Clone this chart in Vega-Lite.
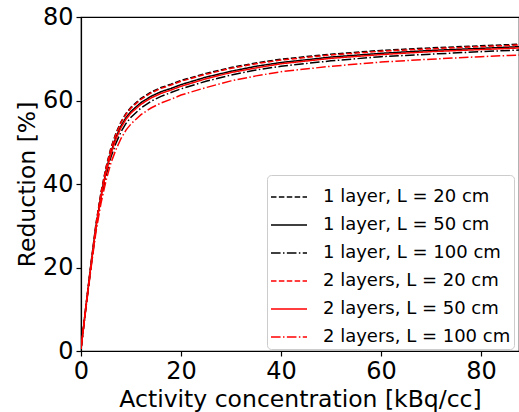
{
  "$schema": "https://vega.github.io/schema/vega-lite/v6.json",
  "width": 438,
  "height": 334,
  "autosize": {"type": "none"},
  "padding": {"left": 81, "top": 17, "right": 0, "bottom": 61},
  "background": "white",
  "data": {"values": [
    {"x": 0, "a": 0.5, "b": 0.5, "c": 0.5, "d": 0.5, "e": 0.5, "f": 0.5},
    {"x": 1, "a": 11.0, "b": 10.8, "c": 10.6, "d": 10.9, "e": 10.7, "f": 10.4},
    {"x": 2, "a": 21.0, "b": 20.6, "c": 20.2, "d": 20.8, "e": 20.4, "f": 19.8},
    {"x": 3, "a": 30.5, "b": 29.9, "c": 29.3, "d": 30.3, "e": 29.6, "f": 28.6},
    {"x": 4, "a": 38.0, "b": 37.2, "c": 36.4, "d": 37.8, "e": 36.9, "f": 35.4},
    {"x": 5, "a": 44.0, "b": 43.1, "c": 42.0, "d": 43.8, "e": 42.7, "f": 40.8},
    {"x": 6, "a": 48.7, "b": 47.7, "c": 46.5, "d": 48.5, "e": 47.3, "f": 45.1},
    {"x": 7, "a": 52.2, "b": 51.2, "c": 49.8, "d": 52.0, "e": 50.8, "f": 48.3},
    {"x": 8, "a": 54.9, "b": 53.9, "c": 52.5, "d": 54.7, "e": 53.5, "f": 50.9},
    {"x": 9, "a": 56.9, "b": 55.9, "c": 54.5, "d": 56.7, "e": 55.5, "f": 52.9},
    {"x": 10, "a": 58.4, "b": 57.4, "c": 56.0, "d": 58.2, "e": 57.0, "f": 54.4},
    {"x": 12, "a": 60.5, "b": 59.5, "c": 58.2, "d": 60.3, "e": 59.1, "f": 56.6},
    {"x": 14, "a": 62.0, "b": 61.0, "c": 59.8, "d": 61.8, "e": 60.6, "f": 58.2},
    {"x": 16, "a": 63.1, "b": 62.1, "c": 61.0, "d": 62.9, "e": 61.7, "f": 59.4},
    {"x": 18, "a": 63.9, "b": 62.9, "c": 61.9, "d": 63.7, "e": 62.5, "f": 60.3},
    {"x": 20, "a": 64.8, "b": 63.8, "c": 62.8, "d": 64.6, "e": 63.4, "f": 61.3},
    {"x": 25, "a": 66.5, "b": 65.6, "c": 64.6, "d": 66.3, "e": 65.2, "f": 63.1},
    {"x": 30, "a": 67.9, "b": 67.0, "c": 66.1, "d": 67.7, "e": 66.7, "f": 64.7},
    {"x": 35, "a": 69.0, "b": 68.2, "c": 67.3, "d": 68.8, "e": 67.8, "f": 65.9},
    {"x": 40, "a": 69.9, "b": 69.1, "c": 68.2, "d": 69.7, "e": 68.8, "f": 66.9},
    {"x": 50, "a": 71.1, "b": 70.4, "c": 69.5, "d": 70.9, "e": 70.1, "f": 68.2},
    {"x": 60, "a": 72.0, "b": 71.3, "c": 70.5, "d": 71.8, "e": 71.0, "f": 69.2},
    {"x": 70, "a": 72.6, "b": 72.0, "c": 71.1, "d": 72.4, "e": 71.7, "f": 69.9},
    {"x": 80, "a": 73.1, "b": 72.5, "c": 71.7, "d": 72.9, "e": 72.2, "f": 70.5},
    {"x": 88, "a": 73.5, "b": 72.9, "c": 72.1, "d": 73.3, "e": 72.6, "f": 70.9}
  ]},
  "transform": [
    {"fold": ["a", "b", "c", "d", "e", "f"], "as": ["k", "y"]},
    {"lookup": "k", "from": {"data": {"values": [
      {"k": "a", "series": "1 layer, L = 20 cm"},
      {"k": "b", "series": "1 layer, L = 50 cm"},
      {"k": "c", "series": "1 layer, L = 100 cm"},
      {"k": "d", "series": "2 layers, L = 20 cm"},
      {"k": "e", "series": "2 layers, L = 50 cm"},
      {"k": "f", "series": "2 layers, L = 100 cm"}
    ]}, "key": "k", "fields": ["series"]}}
  ],
  "mark": {"type": "line", "clip": true, "strokeWidth": 1.5},
  "encoding": {
    "x": {"field": "x", "type": "quantitative",
      "scale": {"domain": [0, 87.6], "nice": false, "zero": false},
      "axis": {"values": [0, 20, 40, 60, 80], "title": "Activity concentration [kBq/cc]"}},
    "y": {"field": "y", "type": "quantitative",
      "scale": {"domain": [0, 80], "nice": false},
      "axis": {"values": [0, 20, 40, 60, 80], "title": "Reduction [%]"}},
    "color": {"field": "series", "type": "nominal",
      "scale": {"domain": ["1 layer, L = 20 cm", "1 layer, L = 50 cm", "1 layer, L = 100 cm", "2 layers, L = 20 cm", "2 layers, L = 50 cm", "2 layers, L = 100 cm"],
        "range": ["#000000", "#000000", "#000000", "#ff0000", "#ff0000", "#ff0000"]}},
    "strokeDash": {"field": "series", "type": "nominal",
      "scale": {"domain": ["1 layer, L = 20 cm", "1 layer, L = 50 cm", "1 layer, L = 100 cm", "2 layers, L = 20 cm", "2 layers, L = 50 cm", "2 layers, L = 100 cm"],
        "range": [[5.5, 2.4], [1, 0], [9.6, 2.4, 1.5, 2.4], [5.5, 2.4], [1, 0], [9.6, 2.4, 1.5, 2.4]]}},
    "order": {"field": "k", "sort": "descending"}
  },
  "config": {
    "font": "DejaVu Sans",
    "view": {"stroke": "#000000", "strokeWidth": 1.2},
    "axis": {
      "grid": false, "domainColor": "#000000", "domainWidth": 1.2, "tickColor": "#000000", "tickWidth": 1.2, "tickSize": 5,
      "labelFont": "DejaVu Sans", "labelFontSize": 24, "labelColor": "#000000", "labelPadding": 3,
      "titleFont": "DejaVu Sans", "titleFontSize": 23.5, "titleFontWeight": "normal", "titleColor": "#000000"
    },
    "axisX": {"titlePadding": 4, "labelFlush": false},
    "axisY": {"titlePadding": 3, "labelFlush": false},
    "legend": {
      "orient": "none", "legendX": 186, "legendY": 158, "title": null,
      "fillColor": "#ffffff", "strokeColor": "#cccccc", "cornerRadius": 4, "padding": 3,
      "symbolType": "stroke", "symbolSize": 1300, "symbolStrokeWidth": 1.5,
      "labelFont": "DejaVu Sans", "labelFontSize": 18, "labelColor": "#000000", "labelOffset": 15,
      "rowPadding": -2, "labelLimit": 400
    }
  }
}
